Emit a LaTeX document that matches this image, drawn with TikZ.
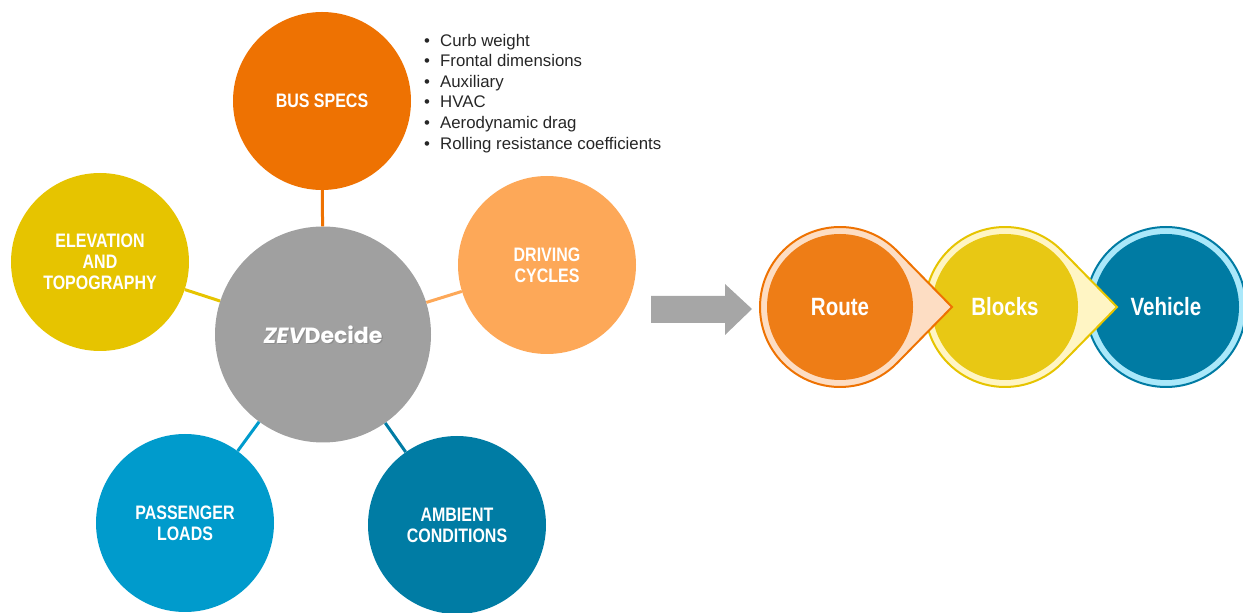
\documentclass[tikz,border=0pt]{standalone}
\usepackage{fontspec}
\setmainfont{Liberation Sans}
\newfontfamily\narrowfont[FakeStretch=0.82]{Liberation Sans}
\newfontfamily\zevfont{Poppins}

\definecolor{busorange}{RGB}{238,114,2}
\definecolor{elevyellow}{RGB}{230,196,0}
\definecolor{driveorange}{RGB}{253,168,88}
\definecolor{zevgray}{RGB}{160,160,160}
\definecolor{passblue}{RGB}{0,155,204}
\definecolor{ambteal}{RGB}{0,124,164}
\definecolor{arrowgray}{RGB}{166,166,166}
\definecolor{routeorange}{RGB}{238,125,22}
\definecolor{routelight}{RGB}{253,221,195}
\definecolor{blocksyellow}{RGB}{232,200,20}
\definecolor{blockslight}{RGB}{255,245,196}
\definecolor{vehicleteal}{RGB}{0,123,163}
\definecolor{vehiclelight}{RGB}{170,232,250}
\definecolor{listtext}{RGB}{38,38,38}

\tikzset{
	bubble/.style={circle,minimum size=178,inner sep=0,text=white,align=center,
		font=\narrowfont\bfseries\fontsize{19.5}{21}\selectfont},
	stage/.style={circle,minimum size=146,inner sep=0,text=white,
		font=\narrowfont\bfseries\fontsize{25}{28}\selectfont},
	spoke/.style={line width=3},
	ring/.style={line width=2}
}

\begin{document}
\begin{tikzpicture}[x=1pt,y=1pt]
	\useasboundingbox (0,0) rectangle (1243,613);

	\coordinate (R) at (840,306);
	\coordinate (Rtip) at (952,306);
	\coordinate (B) at (1005,306);
	\coordinate (Btip) at (1117,306);
	\coordinate (V) at (1166,306);



	% the hub and its five inputs
	\node[circle,minimum size=216,inner sep=0,fill=zevgray] (zev) at (323,278.5) {};
	\node[text=black!45,font=\zevfont\bfseries\fontsize{22}{26}\selectfont] (zevshadow) at ([shift={(1.2,-1.5)}]zev.center) {{\itshape ZEV}Decide};
	\node[text=white,font=\zevfont\bfseries\fontsize{22}{26}\selectfont] (zevtext) at (zev.center) {{\itshape ZEV}Decide};

	\node[bubble,fill=busorange] (bus) at (322,512) {BUS SPECS};
	\node[bubble,fill=elevyellow] (elev) at (100,351) {ELEVATION\\AND\\TOPOGRAPHY};
	\node[bubble,fill=driveorange] (drive) at (547,348) {DRIVING\\CYCLES};
	\node[bubble,fill=passblue] (pass) at (185,90) {PASSENGER\\LOADS};
	\node[bubble,fill=ambteal] (amb) at (457,88) {AMBIENT\\CONDITIONS};

	\draw[spoke,busorange](zev)--(bus);
	\draw[spoke,elevyellow](zev)--(elev);
	\draw[spoke,driveorange](zev)--(drive);
	\draw[spoke,passblue](zev)--(pass);
	\draw[spoke,ambteal](zev)--(amb);

	\node[anchor=north west,inner sep=0,align=left,text=listtext,font=\fontsize{16.8}{20.6}\selectfont] (specs) at (424,579.2)
	{\makebox[16pt][l]{\textbullet}Curb weight\\
	 \makebox[16pt][l]{\textbullet}Frontal dimensions\\
	 \makebox[16pt][l]{\textbullet}Auxiliary\\
	 \makebox[16pt][l]{\textbullet}HVAC\\
	 \makebox[16pt][l]{\textbullet}Aerodynamic drag\\
	 \makebox[16pt][l]{\textbullet}Rolling resistance coefficients};

	\fill[arrowgray](651,317)--(725,317)--(725,329)--(752,304)--(725,278)--(725,290)--(651,290)--cycle;



	% route -> blocks -> vehicle
	\filldraw[ring,fill=vehiclelight,draw=vehicleteal](V) circle (80);
	\node[stage,fill=vehicleteal] (vehicle) at (V) {Vehicle};

	\filldraw[ring,fill=blockslight,draw=elevyellow](B) ++(44.4:80) arc[start angle=44.4,end angle=315.6,radius=80]--(Btip)--cycle;
	\node[stage,fill=blocksyellow] (blocks) at (B) {Blocks};

	\filldraw[ring,fill=routelight,draw=busorange](R) ++(44.4:80) arc[start angle=44.4,end angle=315.6,radius=80]--(Rtip)--cycle;
	\node[stage,fill=routeorange] (route) at (R) {Route};

\end{tikzpicture}
\end{document}
